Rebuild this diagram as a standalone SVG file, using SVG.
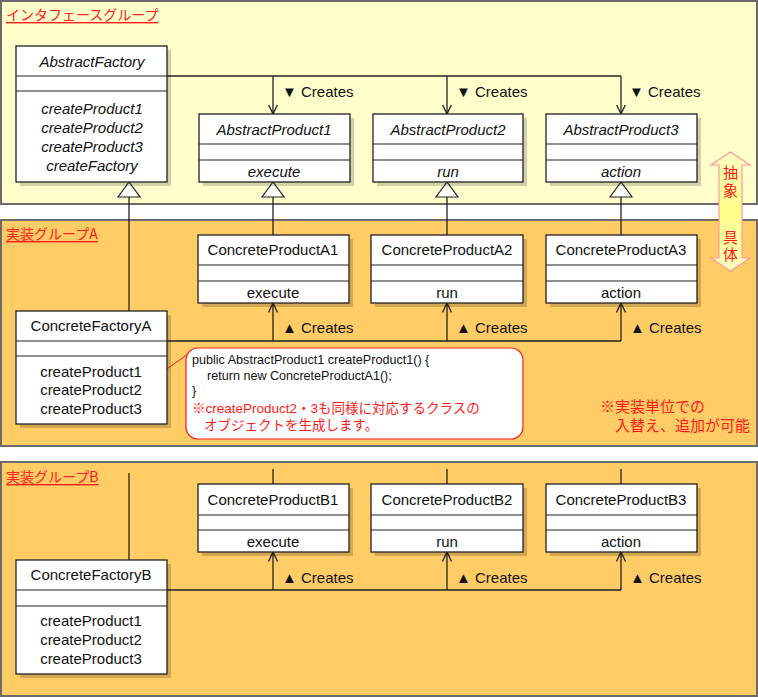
<svg xmlns="http://www.w3.org/2000/svg" width="758" height="697" viewBox="0 0 758 697">
<defs>
<style>
.panel{stroke:#6b6b6b;stroke-width:2}
.box{fill:#fff;stroke:#222;stroke-width:1.3}
.shadow{fill:#000;opacity:0.18}
.div{stroke:#222;stroke-width:1.2}
.t{font-family:"Liberation Sans","Noto Sans CJK JP",sans-serif;font-size:15px;fill:#111;text-anchor:middle;dominant-baseline:central}
.i{font-style:italic}
.lbl{font-family:"Liberation Sans","Noto Sans CJK JP",sans-serif;font-size:15px;fill:#111;dominant-baseline:central}
.grp{font-family:"Noto Sans CJK JP","Liberation Sans",sans-serif;font-size:14px;fill:#ff2020;text-decoration:underline;dominant-baseline:central}
.red{font-family:"Liberation Sans","Noto Sans CJK JP",sans-serif;fill:#ff1a1a;dominant-baseline:central}
.code{font-family:"Liberation Sans","Noto Sans CJK JP",sans-serif;font-size:12.6px;fill:#111;dominant-baseline:central}
.ln{stroke:#222;stroke-width:1.3;fill:none}
</style>
<marker id="open" viewBox="0 0 10 10" refX="9.5" refY="5" markerWidth="10" markerHeight="10" markerUnits="userSpaceOnUse" orient="auto">
<path d="M0,0.5 L9.5,5 L0,9.5" fill="none" stroke="#222" stroke-width="1.3"/>
</marker>
<linearGradient id="arrG" x1="0" y1="0" x2="0" y2="1">
<stop offset="0" stop-color="#ffffc0"/>
<stop offset="0.5" stop-color="#ffff88"/>
<stop offset="1" stop-color="#ffffc0"/>
</linearGradient>
</defs>

<!-- panels -->
<rect class="panel" x="1" y="1" width="756" height="203" fill="#ffffcc"/>
<rect class="panel" x="1" y="220" width="756" height="226" fill="#ffcc66"/>
<rect class="panel" x="1" y="462" width="756" height="234" fill="#ffcc66"/>
<text class="grp" x="6" y="14">インタフェースグループ</text>
<text class="grp" x="6" y="233">実装グループA</text>
<text class="grp" x="6" y="476">実装グループB</text>

<!-- connectors -->
<g id="connectors">
<polyline class="ln" points="167,76 621,76"/>
<line class="ln" x1="273" y1="76" x2="273" y2="114" marker-end="url(#open)"/>
<line class="ln" x1="447" y1="76" x2="447" y2="114" marker-end="url(#open)"/>
<line class="ln" x1="621" y1="76" x2="621" y2="114" marker-end="url(#open)"/>
<text class="lbl" x="282" y="91">▼ Creates</text>
<text class="lbl" x="456" y="91">▼ Creates</text>
<text class="lbl" x="629" y="91">▼ Creates</text>
<line class="ln" x1="129" y1="197" x2="129" y2="311"/>
<line class="ln" x1="273" y1="197" x2="273" y2="235"/>
<line class="ln" x1="447" y1="197" x2="447" y2="235"/>
<line class="ln" x1="621" y1="197" x2="621" y2="235"/>
<polygon points="129,182 118,197 140,197" fill="#fff" stroke="#222" stroke-width="1.2"/>
<polygon points="273,182 262,197 284,197" fill="#fff" stroke="#222" stroke-width="1.2"/>
<polygon points="447,182 436,197 458,197" fill="#fff" stroke="#222" stroke-width="1.2"/>
<polygon points="621,182 610,197 632,197" fill="#fff" stroke="#222" stroke-width="1.2"/>
<polyline class="ln" points="167,341 621,341"/>
<line class="ln" x1="273" y1="341" x2="273" y2="303" marker-end="url(#open)"/>
<line class="ln" x1="447" y1="341" x2="447" y2="303" marker-end="url(#open)"/>
<line class="ln" x1="621" y1="341" x2="621" y2="303" marker-end="url(#open)"/>
<text class="lbl" x="282" y="327">▲ Creates</text>
<text class="lbl" x="456" y="327">▲ Creates</text>
<text class="lbl" x="630" y="327">▲ Creates</text>
<line class="ln" x1="129" y1="473" x2="129" y2="560"/>
<line class="ln" x1="273" y1="469" x2="273" y2="484"/>
<line class="ln" x1="447" y1="469" x2="447" y2="484"/>
<line class="ln" x1="621" y1="469" x2="621" y2="484"/>
<polyline class="ln" points="167,590 621,590"/>
<line class="ln" x1="273" y1="590" x2="273" y2="552" marker-end="url(#open)"/>
<line class="ln" x1="447" y1="590" x2="447" y2="552" marker-end="url(#open)"/>
<line class="ln" x1="621" y1="590" x2="621" y2="552" marker-end="url(#open)"/>
<text class="lbl" x="282" y="577">▲ Creates</text>
<text class="lbl" x="456" y="577">▲ Creates</text>
<text class="lbl" x="630" y="577">▲ Creates</text>
<line x1="154" y1="378" x2="188" y2="354" stroke="#ff1a1a" stroke-width="1"/>
</g>

<g id="AbstractFactory">
<rect class="shadow" x="20" y="50" width="151" height="136"/>
<rect class="box" x="16" y="46" width="151" height="136"/>
<line class="div" x1="16" y1="76" x2="167" y2="76"/>
<line class="div" x1="16" y1="91" x2="167" y2="91"/>
<text class="t i" x="92" y="61">AbstractFactory</text>
<text class="t i" x="92" y="108">createProduct1</text>
<text class="t i" x="92" y="127">createProduct2</text>
<text class="t i" x="92" y="146">createProduct3</text>
<text class="t i" x="92" y="165">createFactory</text>
</g>

<g id="AbstractProduct1">
<rect class="shadow" x="203" y="118" width="151" height="68"/>
<rect class="box" x="199" y="114" width="151" height="68"/>
<line class="div" x1="199" y1="144" x2="350" y2="144"/>
<line class="div" x1="199" y1="160" x2="350" y2="160"/>
<text class="t i" x="274" y="129">AbstractProduct1</text>
<text class="t i" x="274" y="171">execute</text>
</g>
<g id="AbstractProduct2">
<rect class="shadow" x="377" y="118" width="150" height="68"/>
<rect class="box" x="373" y="114" width="150" height="68"/>
<line class="div" x1="373" y1="144" x2="523" y2="144"/>
<line class="div" x1="373" y1="160" x2="523" y2="160"/>
<text class="t i" x="448" y="129">AbstractProduct2</text>
<text class="t i" x="448" y="171">run</text>
</g>
<g id="AbstractProduct3">
<rect class="shadow" x="550" y="118" width="151" height="68"/>
<rect class="box" x="546" y="114" width="151" height="68"/>
<line class="div" x1="546" y1="144" x2="697" y2="144"/>
<line class="div" x1="546" y1="160" x2="697" y2="160"/>
<text class="t i" x="621" y="129">AbstractProduct3</text>
<text class="t i" x="621" y="171">action</text>
</g>

<g id="ConcreteProductA1">
<rect class="shadow" x="202" y="239" width="151" height="68"/>
<rect class="box" x="198" y="235" width="151" height="68"/>
<line class="div" x1="198" y1="265" x2="349" y2="265"/>
<line class="div" x1="198" y1="281" x2="349" y2="281"/>
<text class="t" x="273" y="249">ConcreteProductA1</text>
<text class="t" x="273" y="292">execute</text>
</g>
<g id="ConcreteProductA2">
<rect class="shadow" x="375" y="239" width="152" height="68"/>
<rect class="box" x="371" y="235" width="152" height="68"/>
<line class="div" x1="371" y1="265" x2="523" y2="265"/>
<line class="div" x1="371" y1="281" x2="523" y2="281"/>
<text class="t" x="447" y="249">ConcreteProductA2</text>
<text class="t" x="447" y="292">run</text>
</g>
<g id="ConcreteProductA3">
<rect class="shadow" x="550" y="239" width="151" height="68"/>
<rect class="box" x="546" y="235" width="151" height="68"/>
<line class="div" x1="546" y1="265" x2="697" y2="265"/>
<line class="div" x1="546" y1="281" x2="697" y2="281"/>
<text class="t" x="621" y="249">ConcreteProductA3</text>
<text class="t" x="621" y="292">action</text>
</g>
<g id="ConcreteFactoryA">
<rect class="shadow" x="20" y="315" width="151" height="113"/>
<rect class="box" x="16" y="311" width="151" height="113"/>
<line class="div" x1="16" y1="341" x2="167" y2="341"/>
<line class="div" x1="16" y1="356" x2="167" y2="356"/>
<text class="t" x="91" y="325">ConcreteFactoryA</text>
<text class="t" x="91" y="371">createProduct1</text>
<text class="t" x="91" y="389">createProduct2</text>
<text class="t" x="91" y="408">createProduct3</text>
</g>

<g id="note">
<rect x="186" y="348" width="337" height="91" rx="12" ry="12" fill="#fff" stroke="#ff1a1a" stroke-width="1.2"/>
<text class="code" x="192" y="360">public AbstractProduct1 createProduct1() {</text>
<text class="code" x="207" y="376">return new ConcreteProductA1();</text>
<text class="code" x="192" y="391">}</text>
<text class="red" x="192" y="408" font-size="13.5">※createProduct2・3も同様に対応するクラスの</text>
<text class="red" x="204" y="425" font-size="13.5">オブジェクトを生成します。</text>
</g>

<g id="remark">
<text class="red" x="600" y="406" font-size="15">※実装単位での</text>
<text class="red" x="615" y="425" font-size="15">入替え、追加が可能</text>
</g>

<g id="abstractArrow">
<polygon points="730.5,152 750,165 742,165 742,258 750,258 730.5,271 711,258 719,258 719,165 711,165" fill="url(#arrG)" stroke="#ff9999" stroke-width="1.2"/>
<text class="red" x="730.5" y="172" font-size="15" text-anchor="middle">抽</text>
<text class="red" x="730.5" y="190" font-size="15" text-anchor="middle">象</text>
<text class="red" x="730.5" y="237" font-size="15" text-anchor="middle">具</text>
<text class="red" x="730.5" y="254" font-size="15" text-anchor="middle">体</text>
</g>

<g id="ConcreteProductB1">
<rect class="shadow" x="202" y="488" width="151" height="68"/>
<rect class="box" x="198" y="484" width="151" height="68"/>
<line class="div" x1="198" y1="515" x2="349" y2="515"/>
<line class="div" x1="198" y1="530" x2="349" y2="530"/>
<text class="t" x="273" y="499">ConcreteProductB1</text>
<text class="t" x="273" y="541">execute</text>
</g>
<g id="ConcreteProductB2">
<rect class="shadow" x="375" y="488" width="152" height="68"/>
<rect class="box" x="371" y="484" width="152" height="68"/>
<line class="div" x1="371" y1="515" x2="523" y2="515"/>
<line class="div" x1="371" y1="530" x2="523" y2="530"/>
<text class="t" x="447" y="499">ConcreteProductB2</text>
<text class="t" x="447" y="541">run</text>
</g>
<g id="ConcreteProductB3">
<rect class="shadow" x="550" y="488" width="151" height="68"/>
<rect class="box" x="546" y="484" width="151" height="68"/>
<line class="div" x1="546" y1="515" x2="697" y2="515"/>
<line class="div" x1="546" y1="530" x2="697" y2="530"/>
<text class="t" x="621" y="499">ConcreteProductB3</text>
<text class="t" x="621" y="541">action</text>
</g>
<g id="ConcreteFactoryB">
<rect class="shadow" x="20" y="564" width="151" height="114"/>
<rect class="box" x="16" y="560" width="151" height="114"/>
<line class="div" x1="16" y1="590" x2="167" y2="590"/>
<line class="div" x1="16" y1="606" x2="167" y2="606"/>
<text class="t" x="91" y="574">ConcreteFactoryB</text>
<text class="t" x="91" y="620">createProduct1</text>
<text class="t" x="91" y="639">createProduct2</text>
<text class="t" x="91" y="658">createProduct3</text>
</g>
</svg>
